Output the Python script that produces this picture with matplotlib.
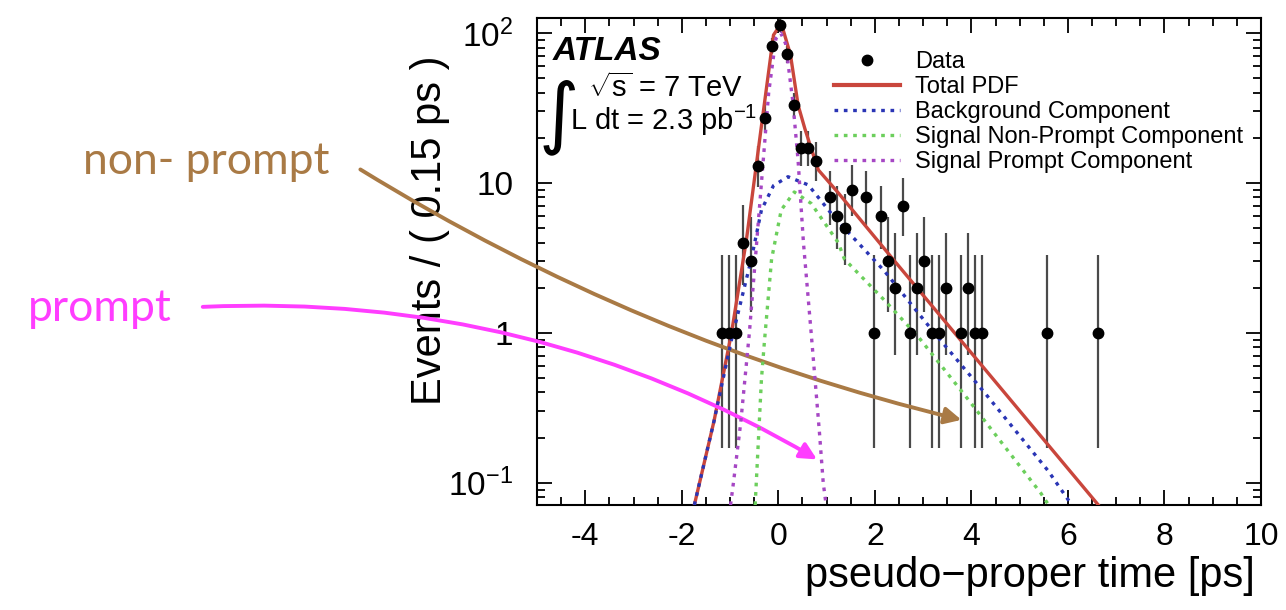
import numpy as np
import matplotlib
matplotlib.use("Agg")
import matplotlib.pyplot as plt
from matplotlib.lines import Line2D
from matplotlib.ticker import FixedLocator, FixedFormatter, MultipleLocator, LogLocator, NullFormatter

plt.rcParams['font.family'] = ['Liberation Sans', 'DejaVu Sans']
plt.rcParams['mathtext.fontset'] = 'custom'
plt.rcParams['mathtext.rm'] = 'Liberation Sans'
plt.rcParams['mathtext.it'] = 'Liberation Sans:italic'
plt.rcParams['axes.unicode_minus'] = False

# data (bin centres, 0.15 ps bins) and counts
data_t = [-1.175, -1.025, -0.875, -0.725, -0.575, -0.425, -0.275, -0.125, 0.025, 0.175,
          0.325, 0.475, 0.625, 0.775, 1.075, 1.225, 1.375, 1.525, 1.825, 1.975,
          2.125, 2.275, 2.425, 2.575, 2.725, 2.875, 3.025, 3.175, 3.325, 3.475,
          3.775, 3.925, 4.075, 4.225, 5.575, 6.625]
data_n = [1, 1, 1, 4, 3, 13, 27, 82, 113, 72,
          33, 17, 17, 14, 8, 6, 5, 9, 8, 1,
          6, 3, 2, 7, 1, 2, 3, 1, 1, 2,
          1, 2, 1, 1, 1, 1]

# fit curves
pdf_t = [-1.74, -1.33, -0.97, -0.66, -0.35, -0.10, 0.06, 0.25, 0.41, 0.55, 0.68, 0.83, 1.24, 2.34, 6.63]
pdf_v = [0.071, 0.26, 1.0, 4.2, 24, 97, 116, 72, 33, 23, 17, 12.2, 8.6, 3.2, 0.071]

bkg_t = [-1.74, -1.33, -0.97, -0.56, -0.35, -0.10, 0.20, 0.62, 1.16, 2.19, 3.23, 4.27, 5.59, 6.08]
bkg_v = [0.071, 0.26, 0.9, 3.1, 6.6, 9.6, 11, 9.7, 5.9, 2.6, 1.0, 0.40, 0.12, 0.071]

nonprompt_t = [-0.48, -0.35, -0.29, -0.14, 0.06, 0.33, 0.68, 1.24, 1.37, 2.19, 2.90, 3.93, 5.44, 5.60]
nonprompt_v = [0.071, 0.49, 0.86, 3.1, 6.6, 8.7, 7.3, 4.0, 3.1, 1.66, 0.94, 0.36, 0.085, 0.071]

prompt_t = [-0.99, -0.93, -0.78, -0.60, -0.48, -0.35, -0.20, -0.05, 0.05, 0.15, 0.30, 0.41, 0.52, 0.68, 0.85, 0.93, 0.99]
prompt_v = [0.071, 0.1, 0.25, 1.0, 3.0, 10, 40, 92, 100, 85, 35, 14, 4.0, 1.0, 0.22, 0.1, 0.071]

n = np.array(data_n, dtype=float)
# Gehrels approximations of the 68% Poisson interval
err_hi = np.sqrt(n + 0.75) + 1.0
err_lo = n - n * (1 - 1 / (9 * n) - 1 / (3 * np.sqrt(n))) ** 3

fig = plt.figure(figsize=(12.86, 6.10), dpi=100)
ax = fig.add_axes([537 / 1286, 1 - 505 / 610, 724 / 1286, 487 / 610])

red = '#c9463c'
blue = '#2a35b5'
green = '#6ccf5c'
purple = '#a647c4'
dots = (0, (1.1, 1.7))

ax.errorbar(data_t, data_n, yerr=[err_lo, err_hi], fmt='none', ecolor='#4a4a4a',
            elinewidth=1.6, capsize=0, zorder=2)
ax.plot(pdf_t, pdf_v, color=red, lw=2.4, zorder=3)
ax.plot(bkg_t, bkg_v, color=blue, lw=2.4, ls=dots, zorder=4)
ax.plot(nonprompt_t, nonprompt_v, color=green, lw=2.4, ls=dots, zorder=4)
ax.plot(prompt_t, prompt_v, color=purple, lw=2.4, ls=dots, zorder=4)
ax.plot(data_t, data_n, 'o', color='black', ms=7.5, zorder=5)

ax.set_yscale('log')
ax.set_xlim(-5, 10)
ax.set_ylim(0.071, 126)

ax.xaxis.set_major_locator(MultipleLocator(2))
ax.xaxis.set_minor_locator(MultipleLocator(0.5))
ax.yaxis.set_major_locator(FixedLocator([0.1, 1, 10, 100]))
ax.yaxis.set_major_formatter(FixedFormatter(['$10^{-1}$', '1', '10', '$10^{2}$']))
ax.yaxis.set_minor_locator(LogLocator(base=10, subs=np.arange(2, 10)))
ax.yaxis.set_minor_formatter(NullFormatter())

ax.tick_params(which='both', direction='in', top=True, right=True, width=1.3)
ax.tick_params(which='major', length=11)
ax.tick_params(which='minor', length=6)
ax.tick_params(axis='x', labelsize=23, pad=12)
ax.tick_params(axis='y', labelsize=24, pad=17)
for s in ax.spines.values():
    s.set_linewidth(1.5)

ax.text(-0.148, 0.565, 'Events / ( 0.15 ps )', transform=ax.transAxes, rotation=90,
        ha='center', va='center', fontsize=30)
ax.text(0.992, -0.145, 'pseudo\u2212proper time [ps]', transform=ax.transAxes,
        ha='right', va='center', fontsize=30)

ax.text(0.022, 0.932, 'ATLAS', transform=ax.transAxes, ha='left', va='center',
        fontsize=24, fontweight='bold', fontstyle='italic')
ax.text(0.030, 0.797, '\u222b', transform=ax.transAxes, ha='center', va='center',
        fontsize=56, family='DejaVu Sans')
ax.text(0.070, 0.856, r'$\sqrt{\mathrm{s}}$ = 7 TeV', transform=ax.transAxes,
        ha='left', va='center', fontsize=21)
ax.text(0.046, 0.79, r'L dt = 2.3 pb$^{-1}$', transform=ax.transAxes,
        ha='left', va='center', fontsize=21)

handles = [
    Line2D([], [], ls='none', marker='o', color='black', ms=7.5),
    Line2D([], [], color=red, lw=3),
    Line2D([], [], color=blue, lw=2.4, ls=dots),
    Line2D([], [], color=green, lw=2.4, ls=dots),
    Line2D([], [], color=purple, lw=2.4, ls=dots),
]
labels = ['Data', 'Total PDF', 'Background Component',
          'Signal Non-Prompt Component', 'Signal Prompt Component']
ax.legend(handles, labels, loc='upper left', bbox_to_anchor=(0.41, 0.932),
          frameon=False, fontsize=17, handlelength=2.8, handletextpad=0.65,
          labelspacing=0.13, borderpad=0, borderaxespad=0)

# hand-drawn style annotations
fig.text(206 / 1286, 1 - 162 / 610, 'non- prompt', color='#a97a45', fontsize=32,
         family='Lato', ha='center', va='center')
fig.text(100 / 1286, 1 - 308 / 610, 'prompt', color='#ff3dff', fontsize=32,
         family='Lato', ha='center', va='center')

ax.annotate('', xy=(3.85, 0.26), xycoords='data',
            xytext=(358, 610 - 168), textcoords='figure pixels',
            arrowprops=dict(arrowstyle='-|>,head_length=1.0,head_width=0.5',
                            color='#a97a45', lw=2.8,
                            connectionstyle='arc3,rad=0.08'))
ax.annotate('', xy=(0.85, 0.14), xycoords='data',
            xytext=(200, 610 - 307), textcoords='figure pixels',
            arrowprops=dict(arrowstyle='-|>,head_length=1.0,head_width=0.5',
                            color='#ff3dff', lw=2.8,
                            connectionstyle='arc3,rad=-0.15'))

fig.savefig('out.png', dpi=100)
